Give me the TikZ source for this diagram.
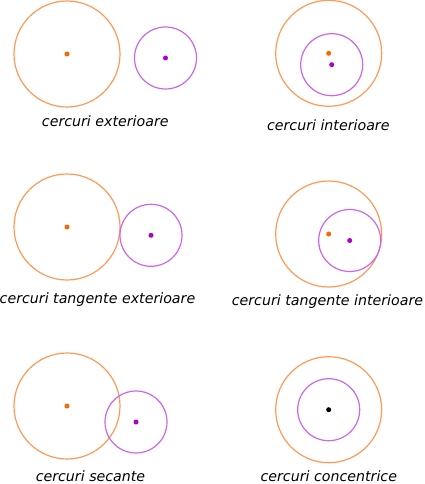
\documentclass[tikz,border=0pt]{standalone}
\usepackage{fontspec}
\setmainfont{DejaVu Sans}
\definecolor{orangeline}{HTML}{FF9955}
\definecolor{orangedot}{HTML}{FF6600}
\definecolor{purpleline}{HTML}{CC66EE}
\definecolor{purpledot}{HTML}{AA00CC}
\begin{document}
\begin{tikzpicture}[x=1pt,y=-1pt,
  big/.style={draw=orangeline, line width=1.2pt},
  small/.style={draw=purpleline, line width=1.2pt},
  caption/.style={anchor=base, inner sep=0pt, font=\fontsize{14.2}{17}\selectfont\itshape}]
  \useasboundingbox (0,0) rectangle (425,484);
  % centres
  \coordinate (o1) at (67,54);     \coordinate (p1) at (165.5,58);
  \coordinate (o2) at (328.7,53.3); \coordinate (p2) at (331.7,64.7);
  \coordinate (o3) at (67,227);    \coordinate (p3) at (151,235.3);
  \coordinate (o4) at (328.7,234); \coordinate (p4) at (349.7,240.5);
  \coordinate (o5) at (67,406);    \coordinate (p5) at (136,422);
  \coordinate (o6) at (328.7,409.7);
  % circles
  \draw[big] (o1) circle (53);   \draw[small] (p1) circle (31);
  \draw[big] (o2) circle (53);   \draw[small] (p2) circle (31);
  \draw[big] (o3) circle (53);   \draw[small] (p3) circle (31);
  \draw[big] (o4) circle (53);   \draw[small] (p4) circle (31);
  \draw[big] (o5) circle (53);   \draw[small] (p5) circle (31);
  \draw[big] (o6) circle (53);   \draw[small] (o6) circle (31);
  % dots
  \fill[orangedot] (o1) circle (2.5) (o2) circle (2.5) (o3) circle (2.5)
    (o4) circle (2.5) (o5) circle (2.5);
  \fill[purpledot] (p1) circle (2.5) (p2) circle (2.5) (p3) circle (2.5)
    (p4) circle (2.5) (p5) circle (2.5);
  \fill (o6) circle (2.5);
  % captions
  \node[caption] (ext) at (105.3,126) {cercuri exterioare};
  \node[caption] (int) at (328.3,131) {cercuri interioare};
  \node[caption] (tgext) at (97.5,303) {cercuri tangente exterioare};
  \node[caption] (tgint) at (327.5,305.5) {cercuri tangente interioare};
  \node[caption] (sec) at (90.5,481.5) {cercuri secante};
  \node[caption] (conc) at (328.8,481.5) {cercuri concentrice};
\end{tikzpicture}
\end{document}
